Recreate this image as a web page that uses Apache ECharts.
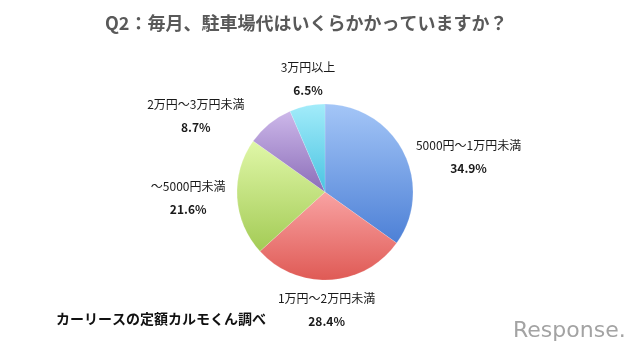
<!DOCTYPE html>
<html>
<head>
<meta charset="utf-8">
<script src="https://cdn.jsdelivr.net/npm/echarts@6/dist/echarts.min.js"></script>
<style>
  html, body { margin: 0; padding: 0; background: #fff; }
  #chart { width: 640px; height: 354px; }
</style>
</head>
<body>
<div id="chart"></div>
<script>
// answers (clockwise from 12 o'clock)
const categories = ['5000円～1万円未満', '1万円～2万円未満', '～5000円未満', '2万円～3万円未満', '3万円以上'];
const shares = [34.9, 28.4, 21.6, 8.7, 6.5];
// slice colours: light top, dark bottom
const colorTop = ['#a4c6f7', '#f9a3a3', '#e0f7a8', '#cdb8ea', '#a3ecfa'];
const colorBottom = ['#4d80d6', '#df5a55', '#a3cb55', '#8b6db8', '#49c3e1'];
// nudges so the labels sit where the original put them
const labelShift = [[0, 8], [-64, 24], [12, 0], [7, -28], [62, -21]];

const font = '"Noto Sans CJK JP", sans-serif';

const chart = echarts.init(document.getElementById('chart'));
chart.setOption({
  backgroundColor: '#fff',
  animation: false,
  title: {
    text: 'Q2：毎月、駐車場代はいくらかかっていますか？',
    left: 100,
    top: 9,
    textStyle: { fontFamily: font, fontSize: 18, fontWeight: 'bold', color: '#595959' }
  },
  graphic: [
    {
      type: 'text', left: 56, top: 312,
      style: { text: 'カーリースの定額カルモくん調べ', font: 'bold 14px ' + font, fill: '#111' }
    },
    {
      type: 'text', left: 513, top: 320,
      style: { text: 'Response.', font: '22px "DejaVu Sans", sans-serif', fill: '#a3a3a3' }
    }
  ],
  series: [{
    type: 'pie',
    center: [325, 192],
    radius: 88,
    startAngle: 90,
    clockwise: true,
    label: {
      position: 'outside',
      formatter: '{n|{b}}\n{p|{c}%}',
      rich: {
        n: { fontFamily: font, fontSize: 12, color: '#1a1a1a', width: 110, align: 'center', lineHeight: 23 },
        p: { fontFamily: font, fontSize: 12, fontWeight: 'bold', color: '#1a1a1a', width: 110, align: 'center', lineHeight: 23 }
      }
    },
    labelLine: { show: false, length: 6, length2: 0 },
    itemStyle: { borderColor: 'rgba(255,255,255,0.3)', borderWidth: 0.5 },
    data: categories.map((name, i) => ({
      name: name,
      value: shares[i],
      label: { offset: labelShift[i] },
      itemStyle: {
        color: new echarts.graphic.LinearGradient(0, 0, 0, 1, [
          { offset: 0, color: colorTop[i] },
          { offset: 1, color: colorBottom[i] }
        ])
      }
    }))
  }]
});
</script>
</body>
</html>
